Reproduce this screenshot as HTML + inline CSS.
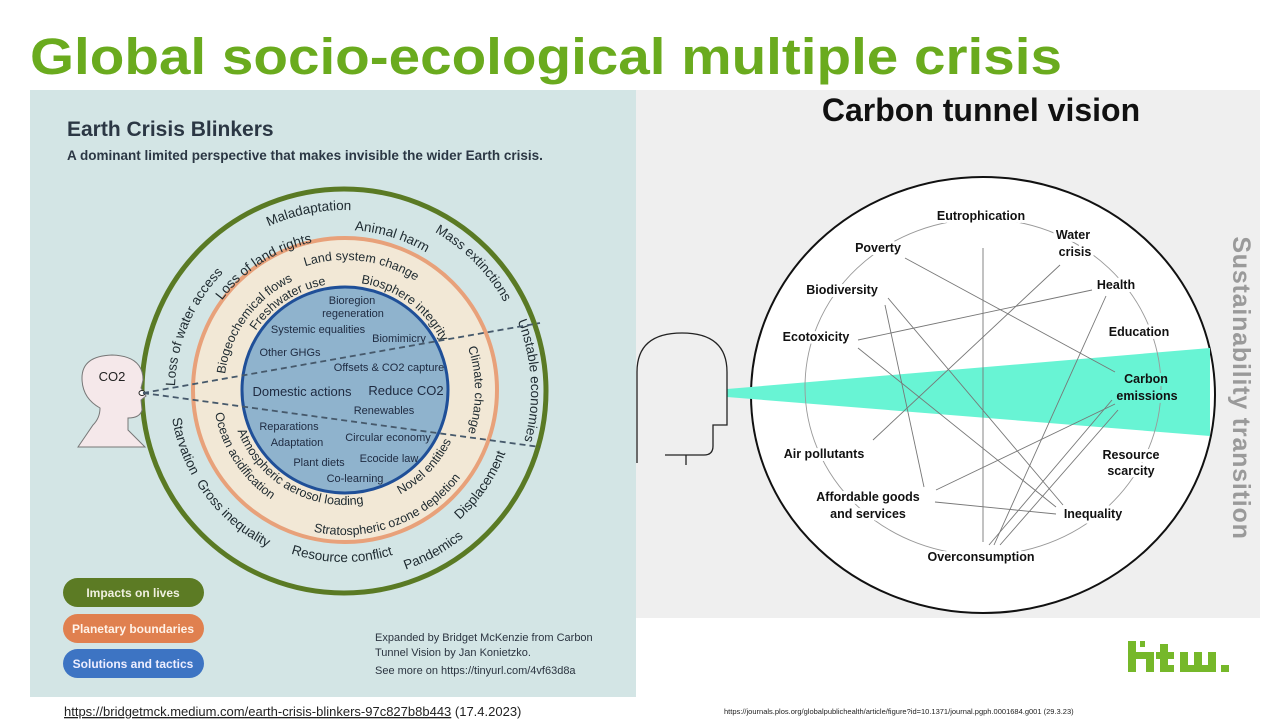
<!DOCTYPE html>
<html><head><meta charset="utf-8"><style>
html,body{margin:0;padding:0;background:#fff;width:1280px;height:720px;overflow:hidden}
svg{display:block}
</style></head><body>
<svg width="1280" height="720" viewBox="0 0 1280 720" xmlns="http://www.w3.org/2000/svg" font-family="Liberation Sans, sans-serif">
<text x="30" y="74" font-size="51" font-weight="bold" fill="#6aab1e" textLength="1032" lengthAdjust="spacingAndGlyphs">Global socio-ecological multiple crisis</text>

<!-- LEFT PANEL -->
<rect x="30" y="90" width="606" height="607" fill="#d3e5e5"/>
<text x="67" y="136" font-size="21" font-weight="bold" fill="#2b3744">Earth Crisis Blinkers</text>
<text x="67" y="160" font-size="13.5" font-weight="bold" fill="#2b3744">A dominant limited perspective that makes invisible the wider Earth crisis.</text>

<circle cx="344" cy="391" r="202" fill="none" stroke="#5a7a24" stroke-width="5"/>
<circle cx="345" cy="390" r="152" fill="#f2e8d6" stroke="#e8a17a" stroke-width="4"/>
<circle cx="345" cy="390" r="103" fill="#8fb3cd" stroke="#1f4f98" stroke-width="3"/>

<defs>
<path id="t169" d="M175,391 A169,169 0 1 1 513,391 A169,169 0 1 1 175,391"/>
<path id="t152" d="M192,391 A152,152 0 1 1 496,391 A152,152 0 1 1 192,391"/>
<path id="t181" d="M163,391 A181,181 0 1 1 525,391 A181,181 0 1 1 163,391"/>
<path id="t161" d="M183,391 A161,161 0 1 1 505,391 A161,161 0 1 1 183,391"/>
<path id="t183" d="M161,391 A183,183 0 1 1 527,391 A183,183 0 1 1 161,391"/>
<path id="t187" d="M157,391 A187,187 0 1 1 531,391 A187,187 0 1 1 157,391"/>
<path id="t121" d="M224,390 A121,121 0 1 1 466,390 A121,121 0 1 1 224,390"/>
<path id="t107" d="M238,390 A107,107 0 1 1 452,390 A107,107 0 1 1 238,390"/>
<path id="t130" d="M215,390 A130,130 0 1 1 475,390 A130,130 0 1 1 215,390"/>
<path id="t108" d="M237,390 A108,108 0 1 1 453,390 A108,108 0 1 1 237,390"/>
<path id="b174" d="M170,391 A174,174 0 1 0 518,391 A174,174 0 1 0 170,391"/>
<path id="b171" d="M173,391 A171,171 0 1 0 515,391 A171,171 0 1 0 173,391"/>
<path id="b189" d="M155,391 A189,189 0 1 0 533,391 A189,189 0 1 0 155,391"/>
<path id="b173" d="M171,391 A173,173 0 1 0 517,391 A173,173 0 1 0 171,391"/>
<path id="b132" d="M213,390 A132,132 0 1 0 477,390 A132,132 0 1 0 213,390"/>
<path id="b115" d="M230,390 A115,115 0 1 0 460,390 A115,115 0 1 0 230,390"/>
<path id="b145" d="M200,390 A145,145 0 1 0 490,390 A145,145 0 1 0 200,390"/>
<path id="b118" d="M227,390 A118,118 0 1 0 463,390 A118,118 0 1 0 227,390"/>
</defs>

<g font-size="13.5" fill="#1e2a30" text-anchor="middle">
<text><textPath href="#t169" startOffset="6.4%">Loss of water access</textPath></text>
<text><textPath href="#t152" startOffset="15.9%">Loss of land rights</textPath></text>
<text><textPath href="#t181" startOffset="21.9%">Maladaptation</textPath></text>
<text><textPath href="#t161" startOffset="29.8%">Animal harm</textPath></text>
<text><textPath href="#t183" startOffset="37.6%">Mass extinctions</textPath></text>
<text><textPath href="#t187" startOffset="49.1%">Unstable economies</textPath></text>
<text><textPath href="#b174" startOffset="5.3%">Starvation</textPath></text>
<text><textPath href="#b174" startOffset="13.3%">Gross inequality</textPath></text>
<text><textPath href="#b171" startOffset="24.8%">Resource conflict</textPath></text>
<text><textPath href="#b189" startOffset="33.1%">Pandemics</textPath></text>
<text><textPath href="#b173" startOffset="40.4%">Displacement</textPath></text>
</g>
<g font-size="12.5" fill="#1e2a30" text-anchor="middle">
<text><textPath href="#t121" startOffset="10%">Biogeochemical flows</textPath></text>
<text><textPath href="#t107" startOffset="15.75%">Freshwater use</textPath></text>
<text><textPath href="#t130" startOffset="27.1%">Land system change</textPath></text>
<text><textPath href="#t108" startOffset="35%">Biosphere integrity</textPath></text>
<text><textPath href="#t130" startOffset="50%">Climate change</textPath></text>
<text><textPath href="#b132" startOffset="9.2%">Ocean acidification</textPath></text>
<text><textPath href="#b115" startOffset="16.7%">Atmospheric aerosol loading</textPath></text>
<text><textPath href="#b145" startOffset="30.6%">Stratospheric ozone depletion</textPath></text>
<text><textPath href="#b118" startOffset="37.8%">Novel entities</textPath></text>
</g>
<g font-size="11" fill="#1e2a40" text-anchor="middle">
<text x="352" y="304">Bioregion</text>
<text x="353" y="317">regeneration</text>
<text x="318" y="333">Systemic equalities</text>
<text x="399" y="342">Biomimicry</text>
<text x="290" y="356">Other GHGs</text>
<text x="389" y="371">Offsets &amp; CO2 capture</text>
<text x="302" y="396" font-size="13">Domestic actions</text>
<text x="406" y="395" font-size="13">Reduce CO2</text>
<text x="384" y="414">Renewables</text>
<text x="289" y="430">Reparations</text>
<text x="297" y="446">Adaptation</text>
<text x="388" y="441">Circular economy</text>
<text x="319" y="466">Plant diets</text>
<text x="389" y="462">Ecocide law</text>
<text x="355" y="482">Co-learning</text>
</g>

<!-- left head -->
<path d="M78,447 L93,425 Q100,418 100,408 Q82,398 82,378 Q82,356 112,355 Q143,356 143,380 L141,388 L146,396 L141,400 L142,410 Q140,418 128,418 L128,430 L145,447 Z" fill="#f5e8ea" stroke="#777" stroke-width="1"/>
<text x="112" y="381" font-size="13" fill="#222" text-anchor="middle">CO2</text>
<ellipse cx="142" cy="393" rx="3" ry="2.5" fill="#fff" stroke="#222" stroke-width="1"/>
<g stroke="#46596b" stroke-width="1.8" stroke-dasharray="6,4">
<line x1="143" y1="393" x2="540" y2="323"/>
<line x1="143" y1="393" x2="540" y2="447"/>
</g>

<!-- legend -->
<rect x="63" y="578" width="141" height="29" rx="14.5" fill="#5c7b24"/>
<text x="133" y="597" font-size="12" font-weight="bold" fill="#f0f0e0" text-anchor="middle">Impacts on lives</text>
<rect x="63" y="614" width="141" height="29" rx="14.5" fill="#e0804f"/>
<text x="133" y="633" font-size="12" font-weight="bold" fill="#fff2e8" text-anchor="middle">Planetary boundaries</text>
<rect x="63" y="649" width="141" height="29" rx="14.5" fill="#3d74c3"/>
<text x="133" y="668" font-size="12" font-weight="bold" fill="#eef" text-anchor="middle">Solutions and tactics</text>
<g font-size="11" fill="#2b3440">
<text x="375" y="641">Expanded by Bridget McKenzie from Carbon</text>
<text x="375" y="656">Tunnel Vision by Jan Konietzko.</text>
<text x="375" y="674">See more on https://tinyurl.com/4vf63d8a</text>
</g>
<text x="64" y="716" font-size="13" fill="#222"><tspan text-decoration="underline">https://bridgetmck.medium.com/earth-crisis-blinkers-97c827b8b443</tspan> (17.4.2023)</text>

<!-- RIGHT PANEL -->
<rect x="636" y="90" width="624" height="528" fill="#efefef"/>
<text x="981" y="121" font-size="32" font-weight="bold" fill="#111" text-anchor="middle">Carbon tunnel vision</text>
<text transform="translate(1233,388) rotate(90)" font-size="25" font-weight="bold" fill="#9a9a9a" text-anchor="middle" letter-spacing="0.8">Sustainability transition</text>
<ellipse cx="983" cy="395" rx="232" ry="218" fill="#fff" stroke="#111" stroke-width="2"/>
<polygon points="727,389 727,397 1210,436 1210,348" fill="#68f4d4"/>
<ellipse cx="983" cy="387" rx="178" ry="168" fill="none" stroke="#999" stroke-width="0.9"/>
<g stroke="#777" stroke-width="0.9">
<line x1="983" y1="248" x2="983" y2="542"/>
<line x1="905" y1="258" x2="1115" y2="372"/>
<line x1="1060" y1="265" x2="873" y2="440"/>
<line x1="1092" y1="290" x2="858" y2="340"/>
<line x1="888" y1="298" x2="1063" y2="505"/>
<line x1="885" y1="305" x2="924" y2="487"/>
<line x1="858" y1="348" x2="1056" y2="507"/>
<line x1="1106" y1="296" x2="994" y2="545"/>
<line x1="1115" y1="404" x2="936" y2="490"/>
<line x1="1118" y1="410" x2="1000" y2="545"/>
<line x1="1112" y1="400" x2="989" y2="545"/>
<line x1="935" y1="502" x2="1056" y2="514"/>
</g>
<g font-size="12.5" font-weight="bold" fill="#111" text-anchor="middle" stroke="#fff" stroke-width="6" paint-order="stroke" stroke-linejoin="round">
<text x="981" y="220">Eutrophication</text>
<text x="1073" y="239">Water</text>
<text x="1075" y="256">crisis</text>
<text x="878" y="252">Poverty</text>
<text x="1116" y="289">Health</text>
<text x="842" y="294">Biodiversity</text>
<text x="1139" y="336">Education</text>
<text x="816" y="341">Ecotoxicity</text>
<text x="824" y="458">Air pollutants</text>
<text x="1131" y="459">Resource</text>
<text x="1131" y="475">scarcity</text>
<text x="868" y="501">Affordable goods</text>
<text x="868" y="518">and services</text>
<text x="1093" y="518">Inequality</text>
<text x="981" y="561">Overconsumption</text>
</g>
<g font-size="12.5" font-weight="bold" fill="#111" text-anchor="middle" stroke="#68f4d4" stroke-width="6" paint-order="stroke">
<text x="1146" y="383">Carbon</text>
<text x="1147" y="400">emissions</text>
</g>
<!-- right head -->
<path d="M637,463 V372 Q637,333 682,333 Q727,333 727,372 V425 H713 V446 Q713,455 704,455 H665 M686,455 V465" fill="none" stroke="#222" stroke-width="1.3"/>

<!-- htw logo -->
<g fill="#76b82a">
<rect x="1128" y="641" width="8" height="31"/>
<rect x="1136" y="652" width="16" height="7"/>
<rect x="1146" y="652" width="8" height="20"/>
<rect x="1140" y="641" width="5" height="6"/>
<rect x="1160" y="644" width="8" height="28"/>
<rect x="1156" y="652" width="18" height="7"/>
<rect x="1160" y="665" width="14" height="7"/>
<rect x="1180" y="652" width="8" height="20"/>
<rect x="1180" y="665" width="36" height="7"/>
<rect x="1194" y="652" width="8" height="20"/>
<rect x="1208" y="652" width="8" height="20"/>
<rect x="1221" y="665" width="8" height="7"/>
</g>
<text x="724" y="714" font-size="7.5" fill="#222">https://journals.plos.org/globalpublichealth/article/figure?id=10.1371/journal.pgph.0001684.g001 (29.3.23)</text>
</svg>
</body></html>
